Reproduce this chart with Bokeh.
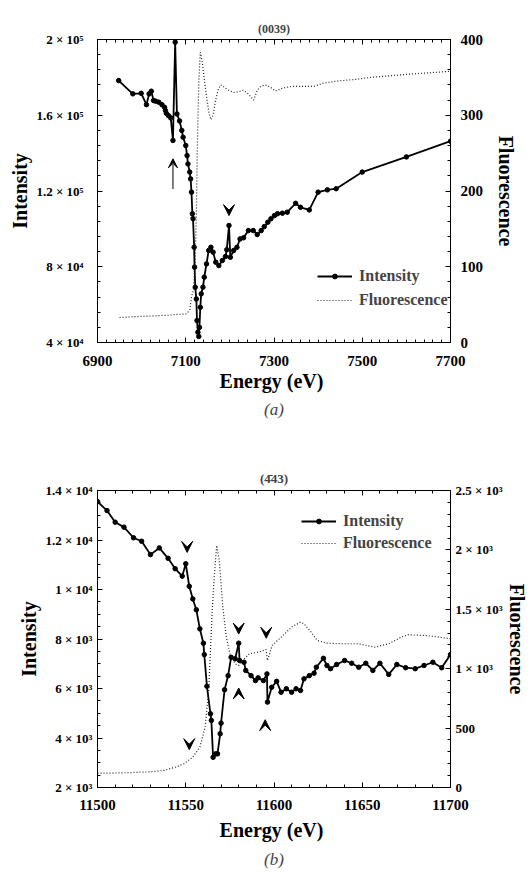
from bokeh.plotting import figure
from bokeh.models import (Range1d, LinearAxis, FixedTicker,
                          Legend, LegendItem, Arrow, VeeHead, ColumnDataSource, Title)
from bokeh.layouts import column
from bokeh.embed import file_html
from bokeh.resources import INLINE

FONT = "Liberation Serif"

# ---------------- panel (a): (0039) reflection ----------------
a_int_ev = [6948, 6980, 6999, 7011, 7017, 7022, 7027, 7032, 7039, 7046, 7052, 7054, 7056,
            7061, 7066, 7071, 7076, 7080, 7086, 7091, 7094, 7100, 7103, 7105, 7109, 7111,
            7113, 7115, 7116.5, 7119, 7120, 7121.5, 7124, 7125.5, 7127.5, 7129.5, 7131, 7133,
            7135, 7139, 7142, 7147, 7152, 7157, 7162, 7168, 7175, 7183, 7190, 7193, 7198,
            7201, 7208.5, 7216, 7223, 7231, 7242, 7253, 7262, 7271, 7278, 7286, 7293, 7301,
            7308, 7319, 7330, 7349, 7360, 7380, 7400, 7421, 7441, 7500, 7600, 7700]
a_int = [178300, 171300, 171600, 165600, 171300, 172700, 167800, 167400, 166900, 165600,
         164200, 162500, 161000, 159800, 158600, 146700, 198600, 160700, 157000, 152000,
         148400, 144000, 138700, 134300, 130000, 126400, 119400, 108000, 105400, 90300,
         79800, 69200, 63000, 51600, 45400, 43200, 48000, 58600, 65700, 69200, 74500,
         81500, 88600, 90300, 87700, 82400, 80600, 83300, 85400, 89000, 101800, 85000,
         88600, 90300, 94700, 95300, 99100, 99100, 97000, 99100, 101200, 103500, 105300,
         107000, 108000, 108300, 108800, 113500, 111400, 110000, 119400, 120600, 121200,
         130000, 138000, 146300]
a_fl_ev = [6950, 6980, 7000, 7020, 7040, 7060, 7080, 7095, 7102, 7109, 7113, 7117, 7121,
           7124, 7126, 7128, 7130, 7133, 7137, 7142, 7147, 7152, 7157, 7162, 7167, 7173,
           7179, 7185, 7192, 7200, 7210, 7220, 7230, 7240, 7248, 7254, 7262, 7270, 7280,
           7292, 7303, 7320, 7340, 7365, 7390, 7410, 7440, 7480, 7520, 7560, 7600, 7650, 7700]
a_fl = [33, 34, 34.5, 35, 35.5, 36, 37, 37.5, 38, 43, 60, 69, 100, 170, 250, 305, 350, 383,
        372, 348, 325, 305, 294, 300, 318, 333, 340, 338, 335, 332, 330, 331, 333, 329, 324,
        320, 333, 338, 340, 337, 332, 336, 338, 338, 338, 342, 345, 347, 350, 352, 354, 356, 358]
a_x_ticks = [6900, 7100, 7300, 7500, 7700]
a_int_ticks = [40000, 80000, 120000, 160000, 200000]
a_int_labels = ["4 × 10⁴", "8 × 10⁴", "1.2 × 10⁵", "1.6 × 10⁵", "2 × 10⁵"]
a_fl_ticks = [0, 100, 200, 300, 400]
a_fl_labels = ["0", "100", "200", "300", "400"]
# arrowhead markers (tip position) and the long arrow under the pre-edge spike
a_down_ev = [7198]
a_down_tip = [107000]
a_arrow_ev = [7071]
a_arrow_from = [121000]
a_arrow_to = [137000]

# ---------------- panel (b): (-443) reflection ----------------
b_int_ev = [11500, 11505.4, 11510, 11515, 11520.4, 11525, 11530, 11535, 11540, 11544, 11548,
            11550, 11552, 11554, 11556, 11558, 11560, 11560.5, 11562, 11564, 11564.5, 11565.5,
            11567, 11568, 11569.5, 11570, 11572, 11574, 11575.7, 11578, 11580, 11580.5, 11583,
            11584, 11587, 11589.5, 11591, 11594, 11596, 11596.3, 11598.7, 11601.5, 11604, 11607,
            11610, 11612.5, 11615, 11617, 11620, 11622.7, 11624, 11628, 11630, 11632, 11635.5,
            11640, 11644, 11648, 11652, 11656, 11660, 11665, 11669.6, 11674.6, 11680, 11685,
            11690, 11695, 11700]
b_int = [13550, 13190, 12720, 12520, 12090, 11950, 11410, 11680, 11260, 10840, 10540, 11040,
         10130, 9620, 9180, 8410, 7830, 7370, 6090, 4980, 4710, 3220, 3360, 3360, 4170, 4600,
         5950, 6520, 7260, 7200, 7830, 7130, 7060, 6730, 6520, 6320, 6430, 6320, 6590, 5450,
         6050, 6290, 5850, 5990, 5850, 5990, 5920, 6390, 6520, 6620, 6860, 7220, 6930, 6800,
         6970, 7130, 7020, 6860, 7020, 6730, 7020, 6570, 6970, 6840, 6800, 6930, 7060, 6840, 7370]
b_fl_ev = [11500, 11510, 11520, 11530, 11538, 11545, 11549, 11554, 11558, 11561, 11563, 11564,
           11565, 11566, 11567.5, 11569, 11571, 11573, 11575, 11578, 11580, 11583, 11586, 11591,
           11595.5, 11596.3, 11599, 11604, 11610, 11615, 11617, 11621, 11624.5, 11630, 11639,
           11648, 11657, 11665, 11672, 11676, 11685, 11691, 11700]
b_fl = [120, 122, 126, 132, 145, 175, 200, 255, 339, 508, 817, 1154, 1490, 1743, 2038, 1911,
        1518, 1265, 1126, 1042, 1027, 1080, 1126, 1139, 1160, 1069, 1196, 1265, 1350, 1392,
        1378, 1308, 1238, 1215, 1210, 1210, 1181, 1210, 1265, 1286, 1280, 1271, 1252]
b_x_ticks = [11500, 11550, 11600, 11650, 11700]
b_int_ticks = [2000, 4000, 6000, 8000, 10000, 12000, 14000]
b_int_labels = ["2 × 10³", "4 × 10³", "6 × 10³", "8 × 10³", "1 × 10⁴", "1.2 × 10⁴", "1.4 × 10⁴"]
b_fl_ticks = [0, 500, 1000, 1500, 2000, 2500]
b_fl_labels = ["0", "500", "1 × 10³", "1.5 × 10³", "2 × 10³", "2.5 × 10³"]
b_down_ev = [11550.8, 11580, 11595.6, 11552]
b_down_tip = [11500, 8200, 8030, 3530]
b_up_ev = [11580, 11595]
b_up_tip = [6020, 4740]


def minor(ticks, n):
    """Evenly spaced minor tick positions between the major ticks."""
    step = (ticks[1] - ticks[0]) / n
    return [ticks[0] + i * step for i in range(n * (len(ticks) - 1) + 1)]


def style_axis(ax, size, standoff):
    ax.major_label_text_font = FONT
    ax.major_label_text_font_style = "bold"
    ax.major_label_text_font_size = size
    ax.major_label_text_color = "black"
    ax.major_label_standoff = standoff
    ax.axis_line_color = "black"
    ax.major_tick_in = 5
    ax.major_tick_out = 0
    ax.minor_tick_in = 3
    ax.minor_tick_out = 0
    ax.major_tick_line_color = "black"
    ax.minor_tick_line_color = "black"
    ax.axis_label_text_font = FONT
    ax.axis_label_text_font_style = "bold"
    ax.axis_label_text_font_size = "20px"
    ax.axis_label_text_color = "black"


def panel(height, borders, xr, yr, fr, x_ticks, x_minor, y_ticks, y_labels, y_minor,
          f_ticks, f_labels, title, title_size, title_standoff, caption, caption_standoff,
          std):
    left, right, top, bottom = borders
    p = figure(width=532, height=height, x_range=Range1d(*xr), y_range=Range1d(*yr),
               output_backend="svg", toolbar_location=None,
               min_border_left=left, min_border_right=right,
               min_border_top=top, min_border_bottom=bottom,
               background_fill_color="white", border_fill_color="white")
    p.extra_y_ranges = {"fl": Range1d(*fr)}
    p.xgrid.visible = False
    p.ygrid.visible = False
    p.outline_line_color = "black"

    p.title.text = title
    p.title.align = "center"
    p.title.text_font = FONT
    p.title.text_font_style = "bold"
    p.title.text_font_size = title_size
    p.title.standoff = title_standoff

    xa = p.xaxis[0]
    xa.ticker = FixedTicker(ticks=x_ticks, minor_ticks=minor(x_ticks, x_minor))
    style_axis(xa, "15px", std["x"])
    xa.axis_label = "Energy  (eV)"
    xa.axis_label_standoff = std["xl"]

    ya = p.yaxis[0]
    ya.ticker = FixedTicker(ticks=y_ticks, minor_ticks=y_minor)
    ya.major_label_overrides = {t: s for t, s in zip(y_ticks, y_labels)}
    style_axis(ya, "13px", std["y"])
    ya.axis_label = "Intensity"
    ya.axis_label_standoff = std["yl"]

    ra = LinearAxis(y_range_name="fl")
    ra.ticker = FixedTicker(ticks=f_ticks, minor_ticks=minor(f_ticks, 5))
    ra.major_label_overrides = {t: s for t, s in zip(f_ticks, f_labels)}
    style_axis(ra, std["rsize"], std["r"])
    ra.axis_label = "Fluorescence"
    ra.axis_label_standoff = std["rl"]
    p.add_layout(ra, "right")

    ta = LinearAxis(ticker=FixedTicker(ticks=x_ticks, minor_ticks=minor(x_ticks, x_minor)))
    style_axis(ta, "1px", 0)
    ta.major_label_text_alpha = 0
    p.add_layout(ta, "above")

    p.add_layout(Title(text=caption, align="center", text_font=FONT,
                       text_font_style="italic", text_font_size="17px",
                       standoff=caption_standoff), "below")
    return p


def draw(p, int_ev, int_val, fl_ev, fl_val, legend_loc, gap, label_size):
    li = p.line(int_ev, int_val, line_color="black", line_width=1.8)
    si = p.scatter(int_ev, int_val, size=4.5, marker="circle", fill_color="black",
                   line_color="black")
    lf = p.line(fl_ev, fl_val, y_range_name="fl", line_color="#222222", line_width=1.2,
                line_dash="1 2")
    leg = Legend(items=[LegendItem(label="Intensity", renderers=[li, si]),
                        LegendItem(label="Fluorescence", renderers=[lf])],
                 location=legend_loc, padding=0, margin=0, spacing=gap,
                 glyph_width=35, glyph_height=12, label_height=12,
                 label_standoff=7, border_line_color=None, background_fill_alpha=0,
                 label_text_font=FONT, label_text_font_style="bold",
                 label_text_font_size=label_size)
    p.add_layout(leg)


def heads(p, ev, tip, dy):
    src = ColumnDataSource(dict(x=ev, y1=tip, y0=[t + dy for t in tip]))
    p.add_layout(Arrow(end=VeeHead(size=11, fill_color="black", line_color="black"),
                       x_start="x", y_start="y0", x_end="x", y_end="y1",
                       line_alpha=0, source=src))


# panel (a)
pa = panel(430, (97, 73, 39, 88), (6900, 7700), (40000, 200000), (0, 400), a_x_ticks, 10,
           a_int_ticks, a_int_labels, minor(a_int_ticks, 5),
           a_fl_ticks, a_fl_labels, "(0039)", "12px", 8, "(a)", 6,
           dict(x=13, xl=1, y=14, yl=2, r=10, rl=9, rsize="15px"))
draw(pa, a_int_ev, a_int, a_fl_ev, a_fl, (220, 33), 6, "16px")
heads(pa, a_down_ev, a_down_tip, 2000)
pa.add_layout(Arrow(end=VeeHead(size=9, fill_color="black", line_color="black"),
                    x_start=a_arrow_ev[0], y_start=a_arrow_from[0],
                    x_end=a_arrow_ev[0], y_end=a_arrow_to[0],
                    line_color="#555555", line_width=1.5))

# panel (b)
pb = panel(446, (88, 82, 60, 89), (11500, 11700), (2000, 14000), (0, 2500), b_x_ticks, 5,
           b_int_ticks, b_int_labels, minor(b_int_ticks, 4),
           b_fl_ticks, b_fl_labels, "(4\u030443)", "13px", 10, "(b)", 8,
           dict(x=12, xl=6, y=5, yl=2, r=5, rl=0, rsize="13px"))
draw(pb, b_int_ev, b_int, b_fl_ev, b_fl, (204, 235), 4, "16px")
heads(pb, b_down_ev, b_down_tip, 200)
heads(pb, b_up_ev, b_up_tip, -200)

layout = column(pa, pb, spacing=0)
open("out.html", "w").write(file_html(layout, INLINE))
